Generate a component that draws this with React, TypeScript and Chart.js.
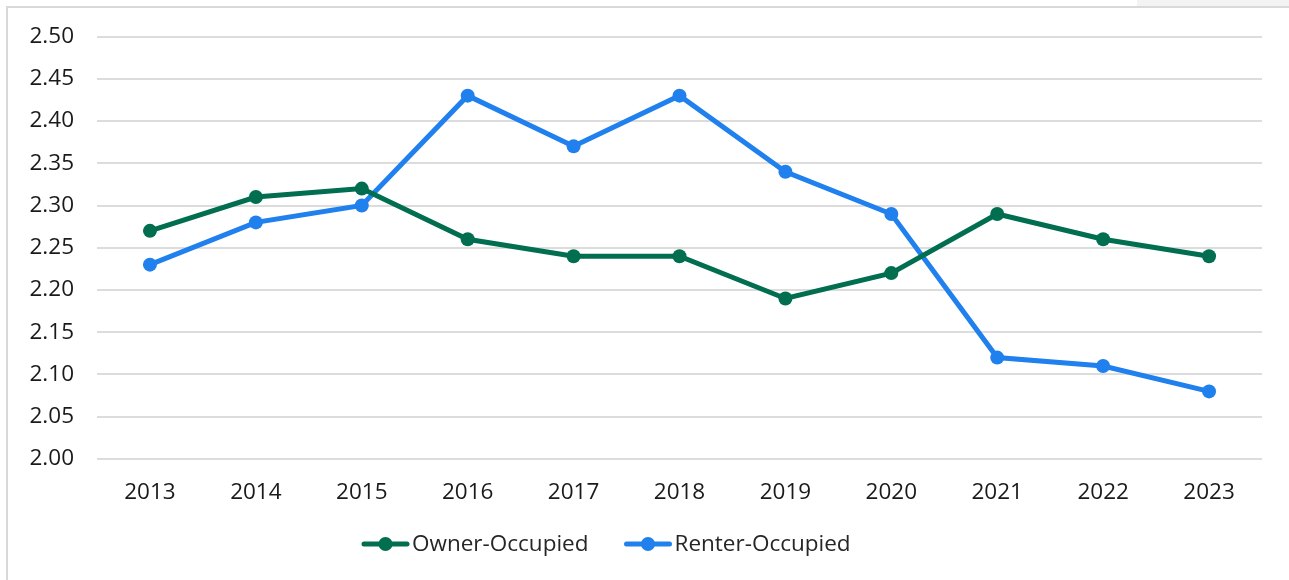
import React, { useEffect, useRef } from "react";
import { Chart, registerables } from "chart.js";

Chart.register(...registerables);

const years = ["2013", "2014", "2015", "2016", "2017", "2018", "2019", "2020", "2021", "2022", "2023"];
const ownerOccupied = [2.27, 2.31, 2.32, 2.26, 2.24, 2.24, 2.19, 2.22, 2.29, 2.26, 2.24];
const renterOccupied = [2.23, 2.28, 2.3, 2.43, 2.37, 2.43, 2.34, 2.29, 2.12, 2.11, 2.08];
const seriesNames = ["Owner-Occupied", "Renter-Occupied"];
const seriesColors = ["#006e4f", "#1f80ee"];

const FONT = "'Open Sans', 'DejaVu Sans', sans-serif";

const framePlugin = {
  id: "frame",
  beforeDraw(chart: any) {
    const ctx = chart.ctx;
    ctx.save();
    ctx.fillStyle = "#ffffff";
    ctx.fillRect(0, 0, chart.width, chart.height);
    ctx.fillStyle = "#f3f3f3";
    ctx.fillRect(1137, 0, chart.width - 1137, 6);
    ctx.fillStyle = "#d9d9d9";
    ctx.fillRect(6, 6, chart.width - 6, 2);
    ctx.fillRect(6, 6, 2, chart.height - 6);
    ctx.restore();
  },
};

const legendPlugin = {
  id: "customLegend",
  afterDraw(chart: any) {
    const ctx = chart.ctx;
    ctx.save();
    ctx.font = `22.5px ${FONT}`;
    ctx.textBaseline = "middle";
    ctx.textAlign = "left";
    let x = 362;
    const y = 544;
    chart.data.datasets.forEach((ds: any) => {
      ctx.strokeStyle = ds.borderColor;
      ctx.lineWidth = 5;
      ctx.lineCap = "round";
      ctx.beginPath();
      ctx.moveTo(x + 2, y);
      ctx.lineTo(x + 45, y);
      ctx.stroke();
      ctx.fillStyle = ds.borderColor;
      ctx.beginPath();
      ctx.arc(x + 23.5, y, 7, 0, Math.PI * 2);
      ctx.fill();
      ctx.fillStyle = "#262626";
      ctx.fillText(ds.label, x + 50, y + 1);
      x += 50 + ctx.measureText(ds.label).width + 36;
    });
    ctx.restore();
  },
};

export default function App() {
  const ref = useRef<HTMLCanvasElement>(null);

  useEffect(() => {
    document.body.style.margin = "0";
    document.body.style.overflow = "hidden";
    const chart = new Chart(ref.current as HTMLCanvasElement, {
      type: "line",
      data: {
        labels: years,
        datasets: [
          {
            label: seriesNames[0],
            data: ownerOccupied,
            borderColor: seriesColors[0],
            backgroundColor: seriesColors[0],
            borderWidth: 5,
            pointRadius: 7,
            pointBorderWidth: 0,
            pointBackgroundColor: seriesColors[0],
            tension: 0,
          },
          {
            label: seriesNames[1],
            data: renterOccupied,
            borderColor: seriesColors[1],
            backgroundColor: seriesColors[1],
            borderWidth: 5,
            pointRadius: 7,
            pointBorderWidth: 0,
            pointBackgroundColor: seriesColors[1],
            tension: 0,
          },
        ],
      },
      options: {
        animation: false,
        responsive: false,
        maintainAspectRatio: false,
        layout: { padding: { top: 35, right: 27, bottom: 77, left: 0 } },
        plugins: {
          legend: { display: false },
          tooltip: { enabled: false },
          title: { display: false },
        },
        scales: {
          x: {
            offset: true,
            grid: { display: false, drawTicks: false },
            border: { display: false },
            ticks: {
              padding: 20,
              color: "#1a1a1a",
              font: { family: FONT, size: 22.5 },
              maxRotation: 0,
            },
            afterFit(scale: any) {
              scale.height = 44;
            },
          },
          y: {
            min: 2.0,
            max: 2.5,
            grid: { color: "#dcdcdc", lineWidth: 2, drawTicks: false },
            border: { display: false },
            ticks: {
              stepSize: 0.05,
              padding: 23,
              color: "#1a1a1a",
              font: { family: FONT, size: 22.5 },
              callback: (v: any) => Number(v).toFixed(2),
            },
            afterFit(scale: any) {
              scale.width = 97;
            },
          },
        },
      },
      plugins: [framePlugin, legendPlugin],
    });
    return () => chart.destroy();
  }, []);

  return (
    <div style={{ position: "absolute", left: 0, top: 0, width: 1289, height: 580 }}>
      <canvas ref={ref} width={1289} height={580} style={{ display: "block" }} />
    </div>
  );
}
